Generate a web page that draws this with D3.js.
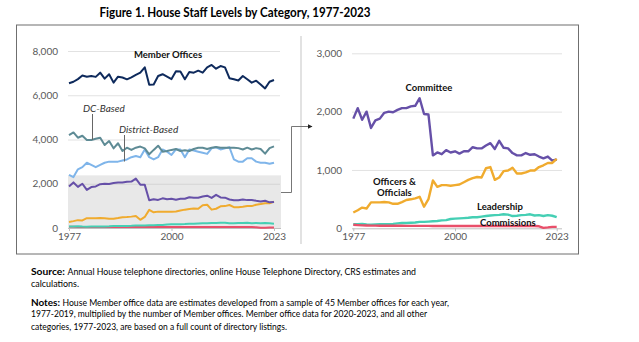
<!DOCTYPE html>
<html>
<head>
<meta charset="utf-8">
<script src="https://cdn.jsdelivr.net/npm/d3@7"></script>
<style>
  html, body { margin: 0; padding: 0; background: #fff; }
  svg { display: block; }
  text { font-family: Lato, "Open Sans", sans-serif; }
</style>
</head>
<body>
<svg id="chart" width="639" height="342"></svg>
<script>
// House staff levels by category, 1977-2023
const years = d3.range(1977, 2024);

const memberOffices = [6540,6610,6730,6890,6840,6870,6830,7020,6750,6950,6570,6840,6800,6720,6810,6920,7020,7260,6480,6490,6870,6950,6840,6730,7080,7070,6720,7050,7020,7110,7020,7260,7370,7200,7320,7260,6770,6720,6670,6870,6720,6570,6660,6490,6310,6610,6690];
const dcBased = [4200,4320,4080,4170,3980,3980,4030,4080,3750,3930,3600,3830,3480,3630,3530,3630,3680,3600,3330,3530,3720,3450,3480,3530,3570,3480,3510,3480,3570,3630,3630,3570,3630,3660,3630,3630,3630,3630,3610,3550,3630,3550,3610,3570,3360,3610,3690];
const districtBased = [2400,2300,2650,2750,2950,2850,2750,2850,2950,3000,3000,3000,3050,3100,3200,3250,3200,3550,3200,3100,3200,3550,3450,3300,3550,3550,3200,3550,3500,3450,3400,3350,3600,3650,3550,3600,3650,3100,3000,3000,3150,3150,3000,2950,2950,2900,2950];
const committee = [1880,2060,1860,2000,1720,1850,1880,1980,2000,1990,2030,2060,2060,2090,2100,2230,1960,1950,1250,1300,1270,1340,1300,1320,1280,1320,1320,1390,1370,1370,1420,1460,1360,1500,1380,1370,1290,1250,1250,1290,1260,1270,1230,1200,1230,1160,1180];
const officers = [270,310,355,340,445,445,445,450,445,420,420,450,485,497,514,540,370,500,820,710,740,740,730,740,750,790,830,860,880,870,1030,1050,830,870,980,990,1040,940,940,960,990,990,1050,1080,1120,1120,1190];
const leadership = [70,70,75,65,60,65,70,70,70,75,85,90,90,95,100,110,110,115,120,125,135,140,160,165,170,175,180,190,190,200,210,220,225,230,240,235,210,215,225,230,240,220,225,210,225,215,190];
const commissions = [60,55,50,48,46,45,45,45,44,44,43,43,42,42,42,42,42,41,40,40,40,40,40,40,40,40,40,40,40,40,40,40,40,40,40,40,40,40,40,40,40,40,35,8,15,25,25];

const leftTicks = [0, 2000, 4000, 6000, 8000];
const rightTicks = [0, 1000, 2000, 3000];
const yearTicks = [1977, 2000, 2023];
const insetMax = 2380; // upper edge of the shaded detail band

const colors = {
  member: "#0e2a5c",
  dc: "#5e8b95",
  district: "#7fb5ea",
  committee: "#6650a8",
  officers: "#f0ab2e",
  leadership: "#45cfb4",
  commissions: "#e94f6a"
};

const svg = d3.select("#chart");

// Title
svg.append("text")
  .attr("x", 235).attr("y", 17)
  .attr("text-anchor", "middle")
  .attr("font-size", 13).attr("font-weight", 700)
  .attr("textLength", 271).attr("lengthAdjust", "spacingAndGlyphs")
  .attr("fill", "#000")
  .text("Figure 1. House Staff Levels by Category, 1977-2023");

// Frame
svg.append("rect")
  .attr("x", 16.5).attr("y", 25).attr("width", 562).attr("height", 229)
  .attr("fill", "none").attr("stroke", "#6f6f6f").attr("stroke-width", 1);

// Divider between panels
svg.append("line")
  .attr("x1", 301).attr("x2", 301).attr("y1", 36).attr("y2", 244)
  .attr("stroke", "#d9d9d9").attr("stroke-width", 1.5);

// ---------- Left panel ----------
const xL = d3.scaleLinear().domain([1977, 2023]).range([69, 274]);
const yL = d3.scaleLinear().domain([0, 8000]).range([228, 51]);

// shaded detail band
svg.append("rect")
  .attr("x", 68).attr("y", yL(insetMax))
  .attr("width", 213).attr("height", yL(0) - yL(insetMax))
  .attr("fill", "#e8e8e8");

const gyL = svg.append("g").attr("transform", "translate(68,0)")
  .call(d3.axisLeft(yL).tickValues(leftTicks).tickFormat(d3.format(",")).tickSize(-212).tickPadding(10));
gyL.select(".domain").remove();
gyL.selectAll(".tick line").attr("stroke", d => d === 0 ? "none" : (d === 2000 ? "#d4d4d4" : "#e2e2e2"));
gyL.selectAll(".tick text").attr("font-size", 10).attr("fill", "#595959").attr("font-family", "Lato, sans-serif");

const gxL = svg.append("g").attr("transform", "translate(0,228)")
  .call(d3.axisBottom(xL).tickValues(yearTicks).tickFormat(d3.format("d")).tickSize(3).tickPadding(2));
gxL.select(".domain").attr("stroke", "#bfbfbf").attr("d", "M68,0.5H281");
gxL.selectAll(".tick line").attr("stroke", "#bfbfbf");
gxL.selectAll(".tick text").attr("font-size", 10).attr("fill", "#595959").attr("font-family", "Lato, sans-serif");

const lineL = d3.line().x((d, i) => xL(years[i])).y(d => yL(d));
const leftSeries = [
  [commissions, colors.commissions],
  [leadership, colors.leadership],
  [officers, colors.officers],
  [committee, colors.committee],
  [districtBased, colors.district],
  [dcBased, colors.dc],
  [memberOffices, colors.member]
];
leftSeries.forEach(([vals, c]) => {
  svg.append("path").datum(vals)
    .attr("d", lineL)
    .attr("fill", "none").attr("stroke", c)
    .attr("stroke-width", 2).attr("stroke-linejoin", "round");
});

// Left panel labels
svg.append("text").attr("x", 168).attr("y", 58)
  .attr("text-anchor", "middle").attr("font-size", 9.5).attr("font-weight", 700)
  .attr("fill", "#111").text("Member Offices");

svg.append("text").attr("x", 83).attr("y", 112)
  .attr("font-size", 10).attr("font-style", "italic").attr("fill", "#333")
  .text("DC-Based");
svg.append("line").attr("x1", 92.5).attr("x2", 92.5).attr("y1", 114).attr("y2", yL(dcBased[5]))
  .attr("stroke", "#666").attr("stroke-width", 1);

svg.append("text").attr("x", 119).attr("y", 133)
  .attr("font-size", 10).attr("font-style", "italic").attr("fill", "#333")
  .text("District-Based");
svg.append("line").attr("x1", 124.5).attr("x2", 124.5).attr("y1", 135).attr("y2", yL(districtBased[12]) + 1)
  .attr("stroke", "#666").attr("stroke-width", 1);

// Connector from the detail band to the right panel
svg.append("defs").append("marker")
  .attr("id", "arrow").attr("viewBox", "0 0 10 10")
  .attr("refX", 9).attr("refY", 5)
  .attr("markerWidth", 5).attr("markerHeight", 5)
  .attr("orient", "auto")
  .append("path").attr("d", "M0,0L10,5L0,10Z").attr("fill", "#222");

svg.append("path")
  .attr("d", "M281,192.5H291.5V126.5H312")
  .attr("fill", "none").attr("stroke", "#777").attr("stroke-width", 1)
  .attr("marker-end", "url(#arrow)");

// ---------- Right panel ----------
const xR = d3.scaleLinear().domain([1977, 2023]).range([353.3, 556.7]);
const yR = d3.scaleLinear().domain([0, 3000]).range([228.3, 53.3]);

const gyR = svg.append("g").attr("transform", "translate(352,0)")
  .call(d3.axisLeft(yR).tickValues(rightTicks).tickFormat(d3.format(",")).tickSize(-210).tickPadding(10));
gyR.select(".domain").remove();
gyR.selectAll(".tick line").attr("stroke", d => d === 0 ? "none" : "#e2e2e2");
gyR.selectAll(".tick text").attr("font-size", 10).attr("fill", "#595959").attr("font-family", "Lato, sans-serif");

const gxR = svg.append("g").attr("transform", "translate(0,228.3)")
  .call(d3.axisBottom(xR).tickValues(yearTicks).tickFormat(d3.format("d")).tickSize(3).tickPadding(2));
gxR.select(".domain").attr("stroke", "#bfbfbf").attr("d", "M352,0.5H562");
gxR.selectAll(".tick line").attr("stroke", "#bfbfbf");
gxR.selectAll(".tick text").attr("font-size", 10).attr("fill", "#595959").attr("font-family", "Lato, sans-serif");

const lineR = d3.line().x((d, i) => xR(years[i])).y(d => yR(d));
const rightSeries = [
  [leadership, colors.leadership],
  [commissions, colors.commissions],
  [committee, colors.committee],
  [officers, colors.officers]
];
rightSeries.forEach(([vals, c]) => {
  svg.append("path").datum(vals)
    .attr("d", lineR)
    .attr("fill", "none").attr("stroke", c)
    .attr("stroke-width", 2.4).attr("stroke-linejoin", "round");
});

const rLabels = [
  { t: "Committee", x: 429, y: 91, a: "middle" },
  { t: "Officers &", x: 373, y: 185, a: "start" },
  { t: "Officials", x: 377, y: 196, a: "start" },
  { t: "Leadership", x: 477, y: 210, a: "start" },
  { t: "Commissions", x: 480, y: 226, a: "start" }
];
rLabels.forEach(l => {
  svg.append("text").attr("x", l.x).attr("y", l.y)
    .attr("text-anchor", l.a).attr("font-size", 9.5).attr("font-weight", 700)
    .attr("fill", "#111").text(l.t);
});

// ---------- Source and notes ----------
// each piece: text, left x, baseline y, width, bold
const notePieces = [
  { t: "Source:", x: 31, y: 275, w: 34, b: true },
  { t: "Annual House telephone directories, online House Telephone Directory, CRS estimates and", x: 67.5, y: 275, w: 348.5, b: false },
  { t: "calculations.", x: 31, y: 286.5, w: 48, b: false },
  { t: "Notes:", x: 31, y: 305.5, w: 29, b: true },
  { t: "House Member office data are estimates developed from a sample of 45 Member offices for each year,", x: 62.5, y: 305.5, w: 386.5, b: false },
  { t: "1977-2019, multiplied by the number of Member offices. Member office data for 2020-2023, and all other", x: 31, y: 317, w: 396, b: false },
  { t: "categories, 1977-2023, are based on a full count of directory listings.", x: 31, y: 330, w: 256, b: false }
];
notePieces.forEach(n => {
  svg.append("text").attr("x", n.x).attr("y", n.y)
    .attr("font-size", 10).attr("fill", "#000")
    .attr("font-weight", n.b ? 700 : 400)
    .attr("textLength", n.w).attr("lengthAdjust", "spacingAndGlyphs")
    .text(n.t);
});
</script>
</body>
</html>
